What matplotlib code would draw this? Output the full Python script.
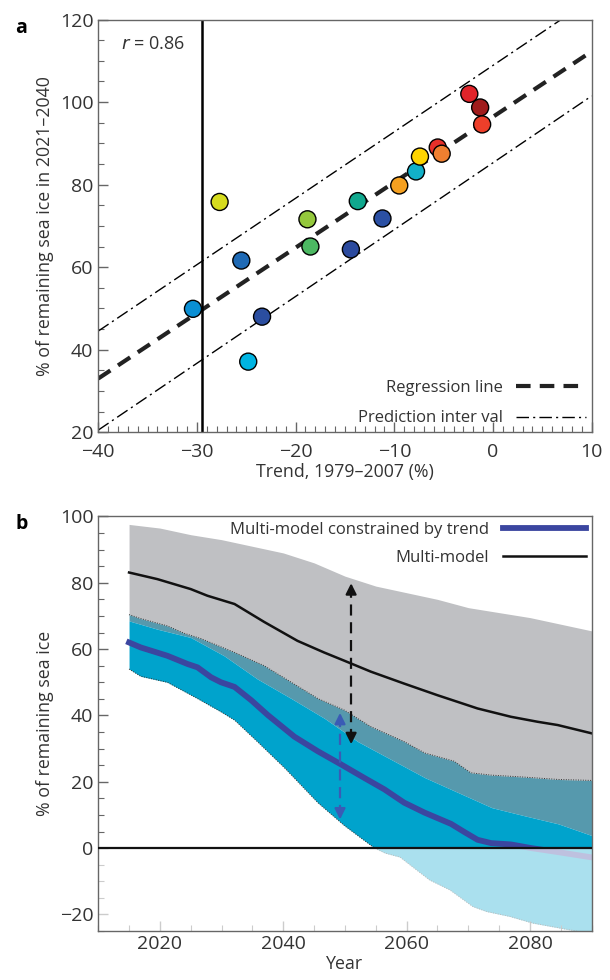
import matplotlib
matplotlib.use("Agg")
import matplotlib.pyplot as plt
import numpy as np
from matplotlib.ticker import MultipleLocator

# ---- panel a data ----
trend = [-27.7, -25.5, -30.4, -24.8, -23.4, -18.8, -18.5, -13.7, -14.4, -11.2,
         -9.5, -7.8, -7.4, -5.6, -5.2, -2.4, -1.3, -1.1]
remaining = [75.8, 61.6, 49.9, 37.1, 48.0, 71.6, 65.0, 76.0, 64.3, 71.8,
             79.8, 83.2, 86.8, 89.0, 87.5, 102.0, 98.7, 94.6]
point_colors = ["#d6dc1e", "#1f6ab5", "#0a8fd4", "#00b4e2", "#2b4ea0", "#94c83c",
                "#4cb862", "#10a88e", "#2b4a9e", "#2b50a4", "#f5a020", "#12b0c8",
                "#ffd400", "#e8302a", "#f07f30", "#e0242a", "#a01c1c", "#ee3f2a"]
line_x = [-40, 10]
regression_y = [33.0, 112.3]
upper_pi_y = [44.5, 125.0]
lower_pi_y = [20.5, 101.5]
observed_trend = -29.5

# ---- panel b data ----
years_gray = [2015, 2020, 2025, 2030, 2035, 2040, 2045, 2050, 2055, 2060, 2065,
              2070, 2075, 2080, 2085, 2090]
gray_upper = [97.6, 96.5, 94.5, 93.0, 91.0, 89.0, 86.0, 82.0, 79.0, 77.0, 75.0,
              72.5, 71.0, 69.5, 67.5, 65.5]

years_mm = [2015, 2019.6, 2025.0, 2027.7, 2032.1, 2036.9, 2042.3, 2046.6, 2049.9,
            2054.2, 2059.6, 2065.0, 2071.5, 2076.9, 2081.2, 2084.5, 2090.0]
multi_model = [83.1, 81.1, 78.1, 76.1, 73.6, 68.2, 62.5, 59.0, 56.5, 53.2, 49.6,
               46.1, 42.1, 39.6, 38.1, 37.1, 34.6]

years_teal = [2015, 2016.9, 2021.2, 2023.9, 2026.6, 2032.1, 2036.9, 2041.3, 2045.6,
              2049.9, 2054.2, 2059.6, 2062.9, 2067.7, 2070.4, 2073.7, 2079.1,
              2084.5, 2090.0]
teal_upper = [70.4, 69.2, 67.0, 64.8, 63.2, 59.0, 55.0, 50.0, 45.1, 41.6, 36.6,
              32.1, 28.7, 26.2, 22.7, 22.0, 21.4, 20.7, 20.4]

years_blue = [2015, 2019.6, 2025.0, 2030.4, 2035.8, 2041.3, 2046.7, 2052.1,
              2057.5, 2063.0, 2068.4, 2073.8, 2079.2, 2084.6, 2090.0]
blue_upper = [68.5, 66.0, 63.5, 58.0, 51.0, 45.1, 39.1, 32.1, 26.7, 21.2, 16.7,
              12.2, 9.7, 7.3, 3.8]

years_low = [2015, 2016.9, 2021.2, 2026.1, 2029.9, 2032.1, 2035.8, 2040.2,
             2045.6, 2049.9, 2054.8, 2056.5, 2058.9, 2063.7, 2067.0, 2070.7,
             2072.9, 2076.7, 2080.4, 2084.8, 2087.5, 2090.0]
blue_lower = [54.0, 51.8, 50.0, 45.1, 41.1, 38.6, 32.1, 24.2, 13.7, 6.8, 0.0,
              -1.5, -2.7, -9.6, -12.6, -17.6, -19.1, -20.6, -22.6, -24.1, -25.0,
              -26.0]

years_con = [2015, 2016.9, 2021.2, 2024.5, 2026.1, 2028.3, 2029.9, 2032.1, 2034.8,
             2037.5, 2041.8, 2045.6, 2049.4, 2053.1, 2056.4, 2059.6, 2062.9,
             2067.2, 2069.4, 2071.5, 2073.7, 2076.9, 2080.2, 2084.5, 2090.0]
constrained = [62.0, 60.5, 58.0, 55.5, 54.5, 51.5, 50.0, 48.6, 44.6, 40.1, 33.6,
               29.2, 25.2, 21.2, 17.7, 13.7, 10.7, 7.3, 4.8, 2.5, 1.5, 1.1, 0.0,
               -1.2, -2.8]

mm_arrow = [2051.0, 30.5, 80.7]     # year, low, high
con_arrow = [2049.2, 7.8, 41.6]

GRAY = "#bfc0c3"
TEAL = "#5699ad"
BLUE = "#00a3cc"
PURPLE = "#3b46a0"
TXT = "#333333"
SPINE = "#666666"

plt.rcParams["font.family"] = ["Open Sans", "DejaVu Sans"]
plt.rcParams["font.size"] = 12

fig = plt.figure(figsize=(6.1, 9.8), dpi=100)
ax1 = fig.add_axes([0.161, 0.559, 0.809, 0.421])
ax2 = fig.add_axes([0.161, 0.050, 0.809, 0.423])


def style_axes(ax):
    for s in ax.spines.values():
        s.set_color(SPINE)
        s.set_linewidth(1.0)
    ax.tick_params(which="both", direction="in", colors=SPINE, labelcolor=TXT,
                   labelsize=14, top=False, right=False)
    ax.tick_params(which="major", length=7, width=1.0)
    ax.tick_params(which="minor", length=4, width=0.8)


# ---- panel a ----
ax1.plot(line_x, upper_pi_y, color="black", lw=1.0, dashes=(9, 3, 1.5, 3))
ax1.plot(line_x, lower_pi_y, color="black", lw=1.0, dashes=(9, 3, 1.5, 3),
         label="Prediction inter val")
ax1.plot(line_x, regression_y, color="#222222", lw=3.0, dashes=(3.5, 2.2),
         label="Regression line")
ax1.axvline(observed_trend, color="black", lw=1.8)
ax1.scatter(trend, remaining, s=150, c=point_colors, edgecolors="black",
            linewidths=1.0, zorder=5)
ax1.set_xlim(-40, 10)
ax1.set_ylim(20, 120)
ax1.xaxis.set_major_locator(MultipleLocator(10))
ax1.xaxis.set_minor_locator(MultipleLocator(1))
ax1.yaxis.set_major_locator(MultipleLocator(20))
ax1.yaxis.set_minor_locator(MultipleLocator(5))
style_axes(ax1)
ax1.tick_params(axis="x", pad=8)
ax1.set_xlabel("Trend, 1979\u20132007 (%)", color=TXT, fontsize=12.8, labelpad=1)
ax1.set_ylabel("% of remaining sea ice in 2021\u20132040", color=TXT, fontsize=12.8)
ax1.text(-37.7, 114, "$r$ = 0.86", color=TXT, fontsize=13, va="center")
h, l = ax1.get_legend_handles_labels()
leg = ax1.legend(h[::-1], l[::-1], loc="lower right", frameon=False,
                 markerfirst=False, handlelength=4.2, fontsize=12,
                 labelspacing=0.85, borderpad=0.1, borderaxespad=0.25)
for t in leg.get_texts():
    t.set_color(TXT)

# ---- panel b ----
grid = np.unique(np.concatenate([years_gray, years_teal, years_blue, years_low]))
g_up = np.interp(grid, years_gray, gray_upper)
t_up = np.interp(grid, years_teal, teal_upper)
b_up = np.interp(grid, years_blue, blue_upper)
b_lo = np.interp(grid, years_low, blue_lower)

ax2.fill_between(grid, g_up, t_up, color=GRAY, lw=0)
ax2.fill_between(grid, t_up, b_up, color=TEAL, lw=0)
ax2.fill_between(grid, b_up, b_lo, color=BLUE, lw=0)
ax2.plot(years_teal, teal_upper, color="#333333", lw=0.7, ls=(0, (1, 1.5)))
ax2.plot(years_low, blue_lower, color="#333333", lw=0.7, ls=(0, (1, 1.5)))
ax2.plot(years_mm, multi_model, color="#111111", lw=1.8, label="Multi-model")
ax2.plot(years_con, constrained, color=PURPLE, lw=4.2,
         label="Multi-model constrained by trend")

# dashed double arrows
for arr, col in ((mm_arrow, "#111111"), (con_arrow, "#3a5bb5")):
    x, lo, hi = arr
    ax2.plot([x, x], [lo + 2, hi - 2], color=col, lw=1.6, dashes=(5, 3))
    ax2.annotate("", xy=(x, hi), xytext=(x, hi - 5),
                 arrowprops=dict(arrowstyle="-|>", color=col, lw=1.6,
                                 mutation_scale=16))
    ax2.annotate("", xy=(x, lo), xytext=(x, lo + 5),
                 arrowprops=dict(arrowstyle="-|>", color=col, lw=1.6,
                                 mutation_scale=16))

# wash out the negative part (below the tick marks)
ax2.axhspan(-30, 0, color="white", alpha=0.67, lw=0, zorder=2.2)
ax2.axhline(0, color="#111111", lw=1.6, zorder=4)

ax2.set_xlim(2010, 2090)
ax2.set_ylim(-25, 100)
ax2.xaxis.set_major_locator(MultipleLocator(20))
ax2.xaxis.set_minor_locator(MultipleLocator(5))
ax2.yaxis.set_major_locator(MultipleLocator(20))
ax2.yaxis.set_minor_locator(MultipleLocator(5))
style_axes(ax2)
ax2.tick_params(axis="x", pad=3)
ax2.set_xlabel("Year", color=TXT, fontsize=12.8, labelpad=1)
ax2.set_ylabel("% of remaining sea ice", color=TXT, fontsize=12.8)
h, l = ax2.get_legend_handles_labels()
leg = ax2.legend(h[::-1], l[::-1], loc="upper right", frameon=False,
                 markerfirst=False, handlelength=5.0, fontsize=12,
                 labelspacing=0.7, borderpad=0.1, borderaxespad=0.25)
for t in leg.get_texts():
    t.set_color(TXT)

fig.text(0.025, 0.982, "a", fontsize=14, fontweight="bold", va="top")
fig.text(0.025, 0.476, "b", fontsize=14, fontweight="bold", va="top")

fig.savefig("out.png", dpi=100)
